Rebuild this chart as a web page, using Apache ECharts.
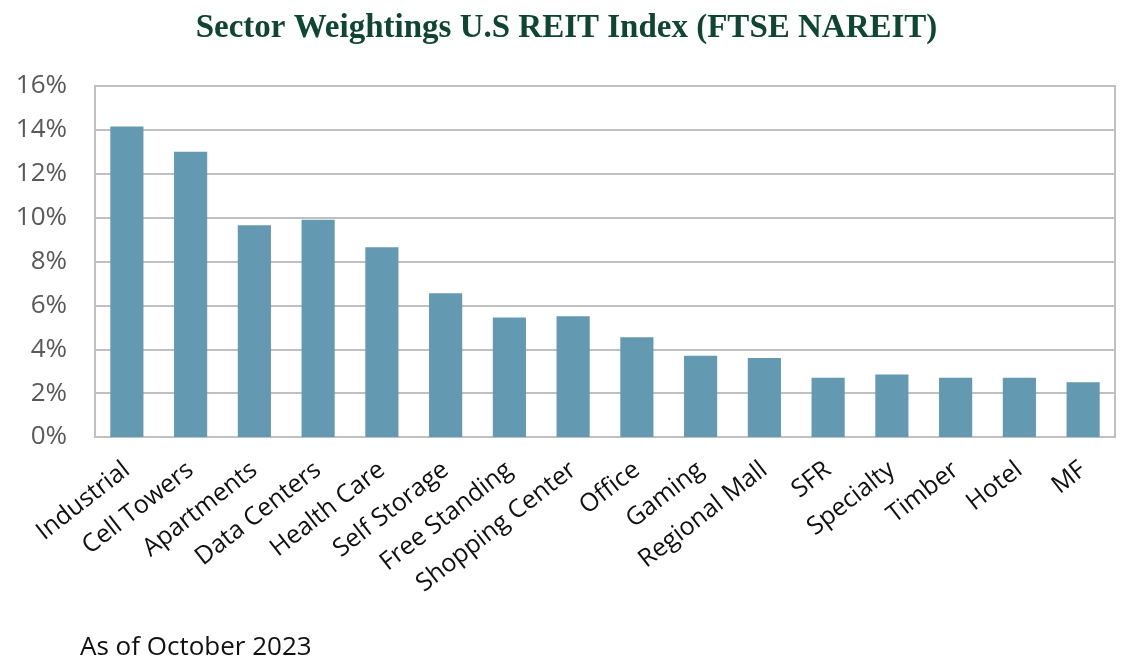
<!DOCTYPE html>
<html>
<head>
<meta charset="utf-8">
<script src="https://cdn.jsdelivr.net/npm/echarts@6/dist/echarts.min.js"></script>
<style>
html,body{margin:0;padding:0;background:#fff;}
#chart{width:1133px;height:670px;}
</style>
</head>
<body>
<div id="chart"></div>
<script>
var categories = ["Industrial","Cell Towers","Apartments","Data Centers","Health Care","Self Storage","Free Standing","Shopping Center","Office","Gaming","Regional Mall","SFR","Specialty","Timber","Hotel","MF"];
var weights = [14.15, 13.0, 9.65, 9.9, 8.65, 6.55, 5.45, 5.5, 4.55, 3.7, 3.6, 2.7, 2.85, 2.7, 2.7, 2.5];
var yTicks = [0, 2, 4, 6, 8, 10, 12, 14, 16];

var chart = echarts.init(document.getElementById('chart'));
chart.setOption({
  animation: false,
  title: {
    text: 'Sector Weightings U.S REIT Index (FTSE NAREIT)',
    left: 'center',
    top: 7,
    textStyle: {
      fontFamily: 'Liberation Serif',
      fontWeight: 'bold',
      fontSize: 33,
      color: '#0f4533'
    }
  },
  graphic: [{
    type: 'text',
    left: 80,
    top: 635,
    style: {
      text: 'As of October 2023',
      font: '26px "Open Sans"',
      fill: '#111'
    }
  }],
  grid: {
    left: 95,
    right: 18,
    top: 86,
    bottom: 233,
    containLabel: false,
    show: true,
    borderColor: '#c0c0c0',
    borderWidth: 2
  },
  xAxis: {
    type: 'category',
    data: categories,
    axisLine: {lineStyle: {color: '#c0c0c0', width: 2}},
    axisTick: {show: false},
    axisLabel: {
      rotate: 38,
      interval: 0,
      fontFamily: 'Open Sans',
      fontSize: 25,
      color: '#111',
      margin: 30
    }
  },
  yAxis: {
    type: 'value',
    min: yTicks[0],
    max: yTicks[yTicks.length - 1],
    interval: 2,
    axisLine: {show: true, lineStyle: {color: '#c0c0c0', width: 2}},
    axisTick: {show: false},
    splitLine: {lineStyle: {color: '#c0c0c0', width: 2}},
    axisLabel: {
      formatter: '{value}%',
      fontFamily: 'Open Sans',
      fontSize: 26,
      color: '#595959',
      margin: 28
    }
  },
  series: [{
    type: 'bar',
    data: weights,
    barWidth: '52%',
    itemStyle: {color: '#6399b1'}
  }]
});
</script>
</body>
</html>
